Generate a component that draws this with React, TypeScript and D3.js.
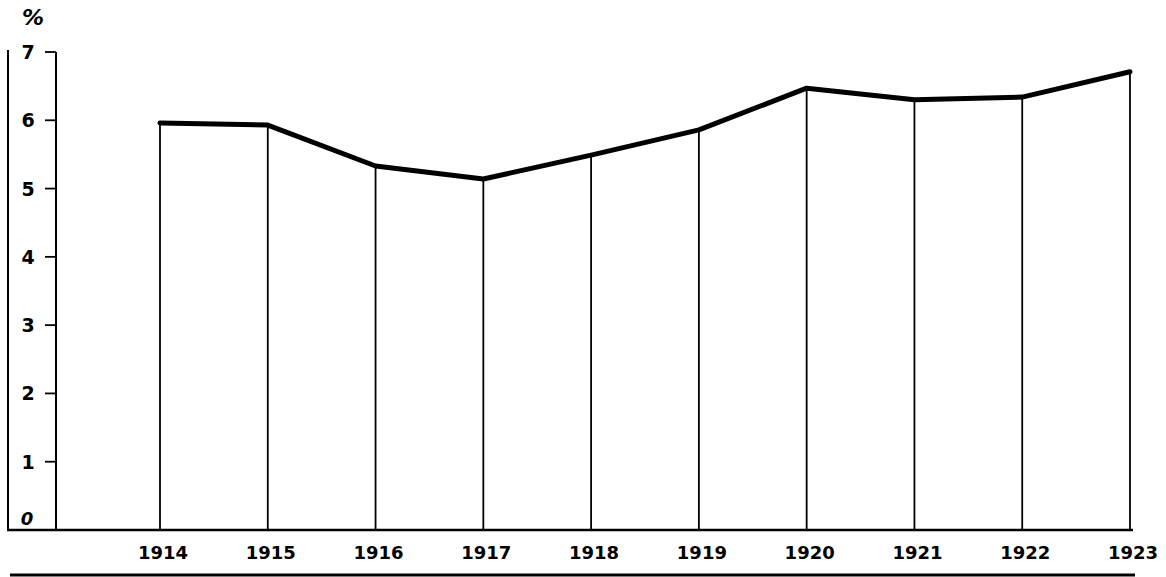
import React from "react";
import * as d3 from "d3";

const years = ["1914", "1915", "1916", "1917", "1918", "1919", "1920", "1921", "1922", "1923"];
const rates = [5.96, 5.93, 5.33, 5.14, 5.49, 5.86, 6.47, 6.3, 6.34, 6.71];
const yTicks = [1, 2, 3, 4, 5, 6, 7];

const W = 1166;
const H = 577;
const font = "'DejaVu Sans', sans-serif";

export default function App() {
  const x = d3.scalePoint<string>().domain(years).range([160, 1130]);
  const y = d3.scaleLinear().domain([0, 7]).range([530, 52]);

  const line = d3
    .line<number>()
    .x((_, i) => x(years[i])!)
    .y((d) => y(d));

  return (
    <svg
      width={W}
      height={H}
      style={{ position: "absolute", left: 0, top: 0, background: "#fff" }}
    >
      {/* percent sign */}
      <text x={33} y={25} textAnchor="middle" fontFamily={font} fontWeight="bold" fontStyle="italic" fontSize={22}>
        %
      </text>

      {/* outer left frame line */}
      <line x1={8} x2={8} y1={y(7) - 2} y2={y(0)} stroke="#000" strokeWidth={2} />
      {/* axis */}
      <line x1={56} x2={56} y1={y(7)} y2={y(0)} stroke="#000" strokeWidth={2} />
      {/* baseline */}
      <line x1={7} x2={1133} y1={y(0)} y2={y(0)} stroke="#000" strokeWidth={2.5} />

      {yTicks.map((t) => (
        <g key={t}>
          <line x1={45} x2={56} y1={y(t)} y2={y(t)} stroke="#000" strokeWidth={1.8} />
          <text
            x={28}
            y={y(t) + 7}
            textAnchor="middle"
            fontFamily={font}
            fontWeight="bold"
            fontSize={19}
          >
            {t}
          </text>
        </g>
      ))}
      <text x={27} y={y(0) - 5} textAnchor="middle" fontFamily={font} fontWeight="bold" fontStyle="italic" fontSize={18}>
        0
      </text>

      {/* verticals */}
      {rates.map((v, i) => (
        <line
          key={years[i]}
          x1={x(years[i])}
          x2={x(years[i])}
          y1={y(0)}
          y2={y(v)}
          stroke="#000"
          strokeWidth={1.8}
        />
      ))}

      {/* data line */}
      <path d={line(rates) ?? ""} fill="none" stroke="#000" strokeWidth={5} strokeLinejoin="round" strokeLinecap="round" />

      {years.map((yr) => (
        <text
          key={yr}
          x={x(yr)! + 3}
          y={559}
          textAnchor="middle"
          fontFamily={font}
          fontWeight="bold"
          fontSize={18}
        >
          {yr}
        </text>
      ))}

      {/* bottom rule */}
      <line x1={10} x2={1135} y1={575} y2={575} stroke="#000" strokeWidth={3} />
    </svg>
  );
}
